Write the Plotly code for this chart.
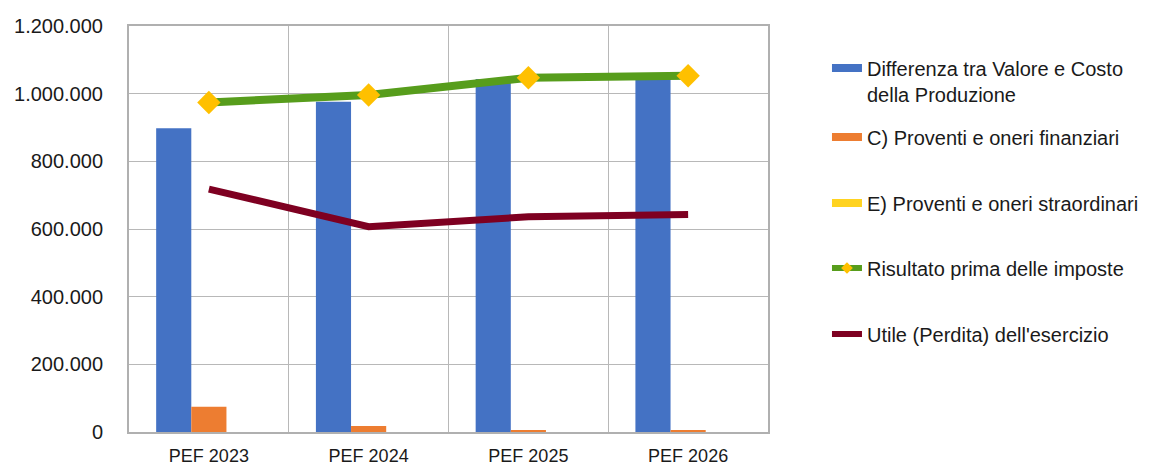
import plotly.graph_objects as go

categories = ["PEF 2023", "PEF 2024", "PEF 2025", "PEF 2026"]
differenza = [898000, 976000, 1043000, 1050000]
proventi_fin = [75000, 18000, 4000, 3000]
proventi_straord = [0, 0, 0, 0]
risultato = [974000, 996000, 1047000, 1053000]
utile = [718000, 607000, 636000, 643000]
y_ticks = [0, 200000, 400000, 600000, 800000, 1000000, 1200000]

names = [
    "Differenza tra Valore e Costo<br>della Produzione",
    "C) Proventi e oneri finanziari",
    "E) Proventi e oneri straordinari",
    "Risultato prima delle imposte",
    "Utile (Perdita) dell'esercizio",
]
c_blue, c_orange, c_yellow, c_green, c_maroon, c_gold = (
    "#4472C4", "#ED7D31", "#FFD320", "#579D1C", "#7E0021", "#FFC000")

FONT = "Liberation Sans, Arial, sans-serif"
fig = go.Figure()

for vals, col in [(differenza, c_blue), (proventi_fin, c_orange), (proventi_straord, c_yellow)]:
    fig.add_trace(go.Bar(x=categories, y=vals, marker=dict(color=col, line=dict(width=0)),
                         showlegend=False, hoverinfo="y"))

fig.add_trace(go.Scatter(x=categories, y=risultato, mode="lines+markers",
                         line=dict(color=c_green, width=8),
                         marker=dict(symbol="diamond", size=18, color=c_gold),
                         showlegend=False))
fig.add_trace(go.Scatter(x=categories, y=utile, mode="lines",
                         line=dict(color=c_maroon, width=7), showlegend=False))

# legend entries
legend_y = [0.8645, 0.7266, 0.564, 0.404, 0.2414]
legend_ids = ["legend", "legend2", "legend3", "legend4", "legend5"]
for i, (nm, col) in enumerate(zip(names, [c_blue, c_orange, c_yellow, c_green, c_maroon])):
    if i == 3:
        fig.add_trace(go.Scatter(x=[None], y=[None], mode="lines+markers", name=nm,
                                 line=dict(color=col, width=6),
                                 marker=dict(symbol="diamond", size=9, color=c_gold),
                                 legend=legend_ids[i]))
    else:
        fig.add_trace(go.Scatter(x=[None], y=[None], mode="lines", name=nm,
                                 line=dict(color=col, width=8 if i < 3 else 6),
                                 legend=legend_ids[i]))

layout_legends = {}
for lid, ly in zip(legend_ids, legend_y):
    layout_legends[lid] = dict(x=1.0923, y=ly, xanchor="left", yanchor="middle",
                               font=dict(family=FONT, size=20, color="#1a1a1a"),
                               bgcolor="rgba(0,0,0,0)", borderwidth=0, valign="top")

fig.update_layout(
    width=1161, height=466,
    margin=dict(l=129, r=393, t=26, b=34, autoexpand=False),
    paper_bgcolor="white", plot_bgcolor="white",
    barmode="group", bargap=0.34, bargroupgap=0,
    separators=",.",
    font=dict(family=FONT, size=19, color="#1a1a1a"),
    showlegend=True,
    **layout_legends,
)
fig.update_xaxes(type="category", tickson="boundaries", showgrid=True, automargin=False,
                 gridcolor="#b8b8b8", gridwidth=1.3, showline=True, mirror=True,
                 linecolor="#b0b0b0", linewidth=2, ticks="", ticklabelstandoff=6,
                 tickfont=dict(family=FONT, size=18, color="#1a1a1a"))
fig.update_yaxes(range=[0, 1200000], tickvals=y_ticks, tickformat=",d", automargin=False,
                 showgrid=True, gridcolor="#b8b8b8", gridwidth=1.3,
                 showline=True, mirror=True, linecolor="#b0b0b0", linewidth=2,
                 zeroline=False, ticks="", ticklabelstandoff=20,
                 tickfont=dict(family=FONT, size=20, color="#1a1a1a"))

fig.write_html("out.html")
